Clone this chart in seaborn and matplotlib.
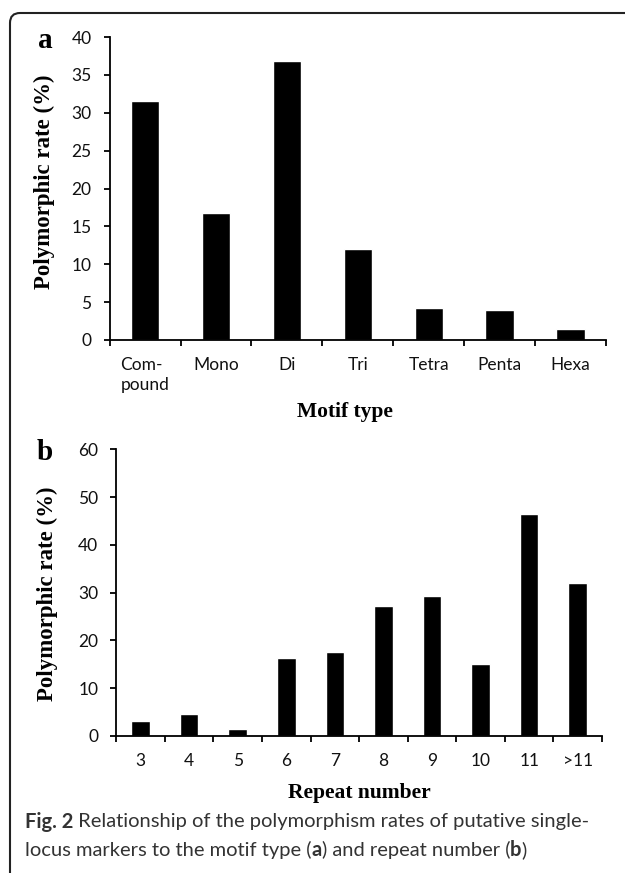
import numpy as np
import pandas as pd
import matplotlib
matplotlib.use('Agg')
import matplotlib.pyplot as plt
from matplotlib.patches import FancyBboxPatch
import seaborn as sns

# Panel a: polymorphic rate by motif type
motif_types = ['Com-\npound', 'Mono', 'Di', 'Tri', 'Tetra', 'Penta', 'Hexa']
motif_rates = [31.6, 16.7, 36.8, 12.0, 4.2, 4.0, 1.4]

# Panel b: polymorphic rate by repeat number
repeat_numbers = ['3', '4', '5', '6', '7', '8', '9', '10', '11', '>11']
repeat_rates = [3.2, 4.7, 1.5, 16.3, 17.6, 27.3, 29.2, 15.1, 46.4, 32.1]

W, H = 625, 873
sns.set_style('white')
plt.rcParams['font.family'] = ['Lato', 'DejaVu Sans']

fig = plt.figure(figsize=(W / 100, H / 100), dpi=100)


def px_axes(left, top, right, bottom):
    return fig.add_axes([left / W, 1 - bottom / H, (right - left) / W, (bottom - top) / H])


def style_axis(ax, n, ymax, step, pad_x):
    ax.set_xlim(-0.5, n - 0.5)
    ax.set_ylim(0, ymax)
    ax.set_yticks(np.arange(0, ymax + 1, step))
    ax.set_xticks(np.arange(-0.5, n, 1))
    ax.set_xticklabels([])
    ax.set_xticks(np.arange(n), minor=True)
    sns.despine(ax=ax)
    for s in ['left', 'bottom']:
        ax.spines[s].set_linewidth(1.3)
        ax.spines[s].set_color('black')
    ax.tick_params(axis='both', which='major', direction='out', length=4, width=1.3,
                   color='black', labelsize=12.5, labelcolor='#111111')
    ax.tick_params(axis='y', pad=9, left=True)
    ax.tick_params(axis='x', which='major', bottom=True)
    ax.tick_params(axis='x', which='minor', length=0, pad=pad_x, labelsize=12.5,
                   labelcolor='#111111')
    ax.set_xlabel('')
    ax.set_ylabel('')


serif_bold = dict(family='Liberation Serif', fontweight='bold', color='black')

# ---- panel a
ax1 = px_axes(109.6, 37, 606, 340)
df_a = pd.DataFrame({'motif': motif_types, 'rate': motif_rates})
sns.barplot(data=df_a, x='motif', y='rate', color='black', width=0.4, saturation=1, ax=ax1)
style_axis(ax1, len(motif_types), 40, 5, 12)
ax1.set_xticklabels(motif_types, minor=True, multialignment='left', linespacing=1.3)

# ---- panel b
ax2 = px_axes(116.3, 449.3, 602, 736)
df_b = pd.DataFrame({'repeat': repeat_numbers, 'rate': repeat_rates})
sns.barplot(data=df_b, x='repeat', y='rate', color='black', width=0.38, saturation=1, ax=ax2)
style_axis(ax2, len(repeat_numbers), 60, 10, 12)
ax2.set_xticklabels(repeat_numbers, minor=True)

# axis titles and panel letters
fig.text(44 / W, 1 - 182 / H, 'Polymorphic rate (%)', rotation=90, ha='center', va='center', fontsize=16.5, **serif_bold)
fig.text(47 / W, 1 - 594 / H, 'Polymorphic rate (%)', rotation=90, ha='center', va='center', fontsize=16.5, **serif_bold)
fig.text(345 / W, 1 - 412 / H, 'Motif type', ha='center', va='center', fontsize=15.5, **serif_bold)
fig.text(359 / W, 1 - 793 / H, 'Repeat number', ha='center', va='center', fontsize=15.5, **serif_bold)
fig.text(45 / W, 1 - 40 / H, 'a', ha='center', va='center', fontsize=21, **serif_bold)
fig.text(45 / W, 1 - 452 / H, 'b', ha='center', va='center', fontsize=21, **serif_bold)

# rounded frame (runs off right and bottom edges)
frame = FancyBboxPatch((0.10, -0.5), 7.0, (H - 13) / 100 + 0.5,
                       boxstyle='round,pad=0,rounding_size=0.1',
                       transform=fig.dpi_scale_trans, facecolor='none',
                       edgecolor='#222222', linewidth=1.5)
fig.add_artist(frame)

# caption with mixed bold runs
renderer = fig.canvas.get_renderer()


def caption_line(runs, x_px, y_px):
    x = x_px / W
    for txt, bold in runs:
        t = fig.text(x, 1 - y_px / H, txt, ha='left', va='center', fontsize=14.5,
                     fontweight='bold' if bold else 'normal', color='#333333')
        bb = t.get_window_extent(renderer=renderer)
        x += bb.width / W


caption_line([('Fig. 2', True), (' Relationship of the polymorphism rates of putative single-', False)], 25, 822)
caption_line([('locus markers to the motif type (', False), ('a', True),
              (') and repeat number (', False), ('b', True), (')', False)], 25, 850)

fig.savefig('out.png', dpi=100)
